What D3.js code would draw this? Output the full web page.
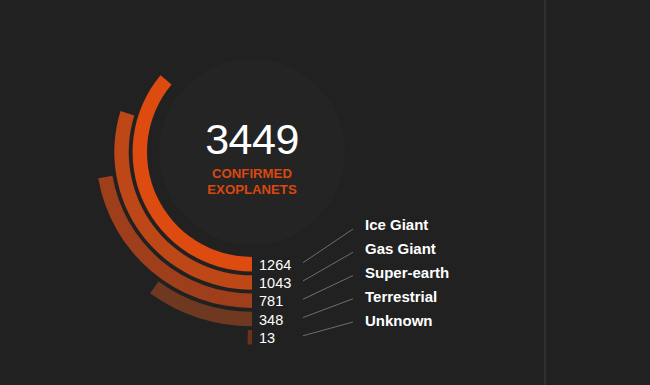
<!DOCTYPE html>
<html>
<head>
<meta charset="utf-8">
<script src="https://cdn.jsdelivr.net/npm/d3@7"></script>
<style>
  html, body { margin: 0; padding: 0; background: #212121; }
  svg { display: block; }
</style>
</head>
<body>
<svg id="chart" width="650" height="385"></svg>
<script>
const categories = ["Ice Giant", "Gas Giant", "Super-earth", "Terrestrial", "Unknown"];
const values = [1264, 1043, 781, 348, 13];
const total = 3449;
const scaleMax = 3500;
const colors = ["#de4b10", "#bd4716", "#9e3e1b", "#6e3821", "#6c301b"];
const titleLines = ["CONFIRMED", "EXOPLANETS"];

const W = 650, H = 385;
const cx = 252, cy = 152;
const svg = d3.select("#chart");

svg.append("rect").attr("width", W).attr("height", H).attr("fill", "#212121");
svg.append("line").attr("x1", 545).attr("x2", 545).attr("y1", 0).attr("y2", H)
  .attr("stroke", "#2f2f2f").attr("stroke-width", 2);

const g = svg.append("g").attr("transform", `translate(${cx},${cy})`);

// inner disc
g.append("circle").attr("r", 93).attr("fill", "#242424");

const rScale = d3.scaleBand().domain(categories).range([105, 192.5]).paddingInner(0.21);
const aScale = d3.scaleLinear().domain([0, scaleMax]).range([0, 2 * Math.PI]);

const arc = d3.arc()
  .innerRadius(d => rScale(d.cat))
  .outerRadius(d => rScale(d.cat) + rScale.bandwidth())
  .startAngle(Math.PI)
  .endAngle(d => Math.PI + aScale(d.value));

const data = categories.map((c, i) => ({ cat: c, value: values[i], color: colors[i], i }));

g.selectAll("path.bar").data(data).enter().append("path")
  .attr("class", "bar")
  .attr("d", arc)
  .attr("fill", d => d.color);

// value labels
g.selectAll("text.val").data(data).enter().append("text")
  .attr("class", "val")
  .attr("x", 7)
  .attr("y", d => rScale(d.cat) + rScale.bandwidth() / 2 + 5.5)
  .attr("fill", "#ffffff")
  .attr("font-family", "Liberation Sans, Arial, sans-serif")
  .attr("font-size", 14.5)
  .text(d => d.value);

// center text
svg.append("text").attr("x", cx).attr("y", 154)
  .attr("text-anchor", "middle").attr("fill", "#ffffff")
  .attr("font-family", "Liberation Sans, Arial, sans-serif")
  .attr("font-size", 43)
  .attr("letter-spacing", -0.5)
  .text(total);

svg.selectAll("text.sub").data(titleLines).enter().append("text")
  .attr("class", "sub")
  .attr("x", cx).attr("y", (d, i) => 178 + i * 16)
  .attr("text-anchor", "middle").attr("fill", "#d9480f")
  .attr("font-family", "Liberation Sans, Arial, sans-serif")
  .attr("font-weight", "bold").attr("font-size", 13.2)
  .text(d => d);

// legend
const legendY = d3.scalePoint().domain(categories).range([230, 326]);
const lineEndY = d3.scalePoint().domain(categories).range([229, 322]);

svg.selectAll("line.lead").data(data).enter().append("line")
  .attr("class", "lead")
  .attr("x1", 303).attr("y1", d => cy + rScale(d.cat) + rScale.bandwidth() / 2 - 1.5)
  .attr("x2", 353).attr("y2", d => lineEndY(d.cat))
  .attr("stroke", "#6e6e6e").attr("stroke-width", 1);

svg.selectAll("text.leg").data(data).enter().append("text")
  .attr("class", "leg")
  .attr("x", 365).attr("y", d => legendY(d.cat))
  .attr("fill", "#ffffff")
  .attr("font-family", "Liberation Sans, Arial, sans-serif")
  .attr("font-weight", "bold").attr("font-size", 15)
  .text(d => d.cat);
</script>
</body>
</html>
